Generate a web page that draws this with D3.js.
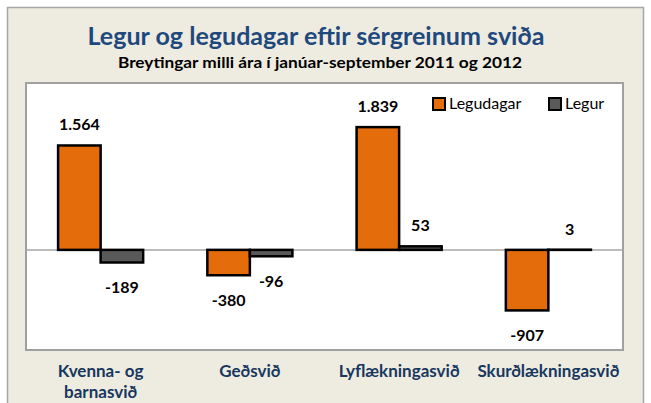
<!DOCTYPE html>
<html>
<head>
<meta charset="utf-8">
<script src="https://cdnjs.cloudflare.com/ajax/libs/d3/7.8.5/d3.min.js"></script>
<style>
  body { margin: 0; background: #ffffff; }
</style>
</head>
<body>
<div id="chart"></div>
<script>
// data
var categories = ["Kvenna- og barnasvið", "Geðsvið", "Lyflækningasvið", "Skurðlækningasvið"];
var categoryLines = [["Kvenna- og", "barnasvið"], ["Geðsvið"], ["Lyflækningasvið"], ["Skurðlækningasvið"]];
var seriesNames = ["Legudagar", "Legur"];
var legudagar = [1564, -380, 1839, -907];
var legur = [-189, -96, 53, 3];
var valueLabels = [["1.564", "-380", "1.839", "-907"], ["-189", "-96", "53", "3"]];

var colors = {Legudagar: "#E46C0A", Legur: "#595959"};

var W = 651, H = 403;
var plot = {left: 26, top: 83, right: 623, bottom: 350};

var svg = d3.select("#chart")
  .append("svg")
  .attr("width", W)
  .attr("height", H);

// outer frame
svg.append("rect")
  .attr("x", 7.5).attr("y", 7.5)
  .attr("width", 636).attr("height", 420)
  .attr("fill", "#EEECE1")
  .attr("stroke", "#A6A6A6")
  .attr("stroke-width", 1.5);

// plot area
svg.append("rect")
  .attr("x", plot.left).attr("y", plot.top)
  .attr("width", plot.right - plot.left).attr("height", plot.bottom - plot.top)
  .attr("fill", "#ffffff")
  .attr("stroke", "#A0A0A0")
  .attr("stroke-width", 2);

// title
svg.append("text")
  .text("Legur og legudagar eftir sérgreinum sviða")
  .attr("x", 316).attr("y", 45)
  .attr("text-anchor", "middle")
  .attr("textLength", 457).attr("lengthAdjust", "spacingAndGlyphs")
  .style("font-family", "Lato, 'Open Sans', sans-serif")
  .style("font-weight", "bold")
  .style("font-size", "24px")
  .attr("fill", "#1F497D");

svg.append("text")
  .text("Breytingar milli ára í janúar-september 2011 og 2012")
  .attr("x", 320).attr("y", 68)
  .attr("text-anchor", "middle")
  .attr("textLength", 404).attr("lengthAdjust", "spacingAndGlyphs")
  .style("font-family", "Lato, 'Open Sans', sans-serif")
  .style("font-weight", "bold")
  .style("font-size", "15px")
  .attr("fill", "#000000");

var x = d3.scaleBand()
  .domain(categories)
  .range([plot.left, plot.right])
  .paddingInner(0.43)
  .paddingOuter(0.215);

var xs = d3.scaleBand()
  .domain(seriesNames)
  .range([0, x.bandwidth()]);

var y = d3.scaleLinear()
  .domain([-1500, 2500])
  .range([plot.bottom, plot.top]);

var rows = [];
categories.forEach(function(c, i) {
  rows.push({cat: c, series: "Legudagar", value: legudagar[i], label: valueLabels[0][i]});
  rows.push({cat: c, series: "Legur", value: legur[i], label: valueLabels[1][i]});
});

// zero line
svg.append("line")
  .attr("x1", plot.left).attr("x2", plot.right)
  .attr("y1", y(0)).attr("y2", y(0))
  .attr("stroke", "#A6A6A6")
  .attr("stroke-width", 1.5);

svg.append("g")
  .selectAll("rect")
  .data(rows)
  .join("rect")
  .attr("x", function(d) { return x(d.cat) + xs(d.series); })
  .attr("width", xs.bandwidth())
  .attr("y", function(d) { return y(Math.max(0, d.value)); })
  .attr("height", function(d) { return Math.abs(y(d.value) - y(0)); })
  .attr("fill", function(d) { return colors[d.series]; })
  .attr("stroke", "#000000")
  .attr("stroke-width", 2.5);

// value labels
svg.append("g")
  .selectAll("text")
  .data(rows)
  .join("text")
  .text(function(d) { return d.label; })
  .attr("x", function(d) { return x(d.cat) + xs(d.series) + xs.bandwidth() / 2; })
  .attr("y", function(d) { return d.value >= 0 ? y(d.value) - 15 : y(d.value) + 31; })
  .attr("text-anchor", "middle")
  .style("font-family", "Lato, 'Open Sans', sans-serif")
  .style("font-weight", "bold")
  .style("font-size", "16px")
  .attr("fill", "#000000");

// category labels
categories.forEach(function(c, i) {
  var t = svg.append("text")
    .attr("text-anchor", "middle")
    .style("font-family", "Lato, 'Open Sans', sans-serif")
    .style("font-weight", "bold")
    .style("font-size", "17px")
    .attr("fill", "#17375E");
  categoryLines[i].forEach(function(line, j) {
    t.append("tspan")
      .text(line)
      .attr("x", x(c) + x.bandwidth() / 2)
      .attr("y", 377 + j * 21);
  });
});

// legend
var legend = svg.append("g");
var legendX = [433, 549];
seriesNames.forEach(function(s, i) {
  legend.append("rect")
    .attr("x", legendX[i]).attr("y", 98)
    .attr("width", 12).attr("height", 12)
    .attr("fill", colors[s])
    .attr("stroke", "#000000")
    .attr("stroke-width", 2);
  legend.append("text")
    .text(s)
    .attr("x", legendX[i] + 16).attr("y", 109)
    .style("font-family", "Lato, 'Open Sans', sans-serif")
    .style("font-size", "16px")
    .attr("fill", "#000000");
});
</script>
</body>
</html>
